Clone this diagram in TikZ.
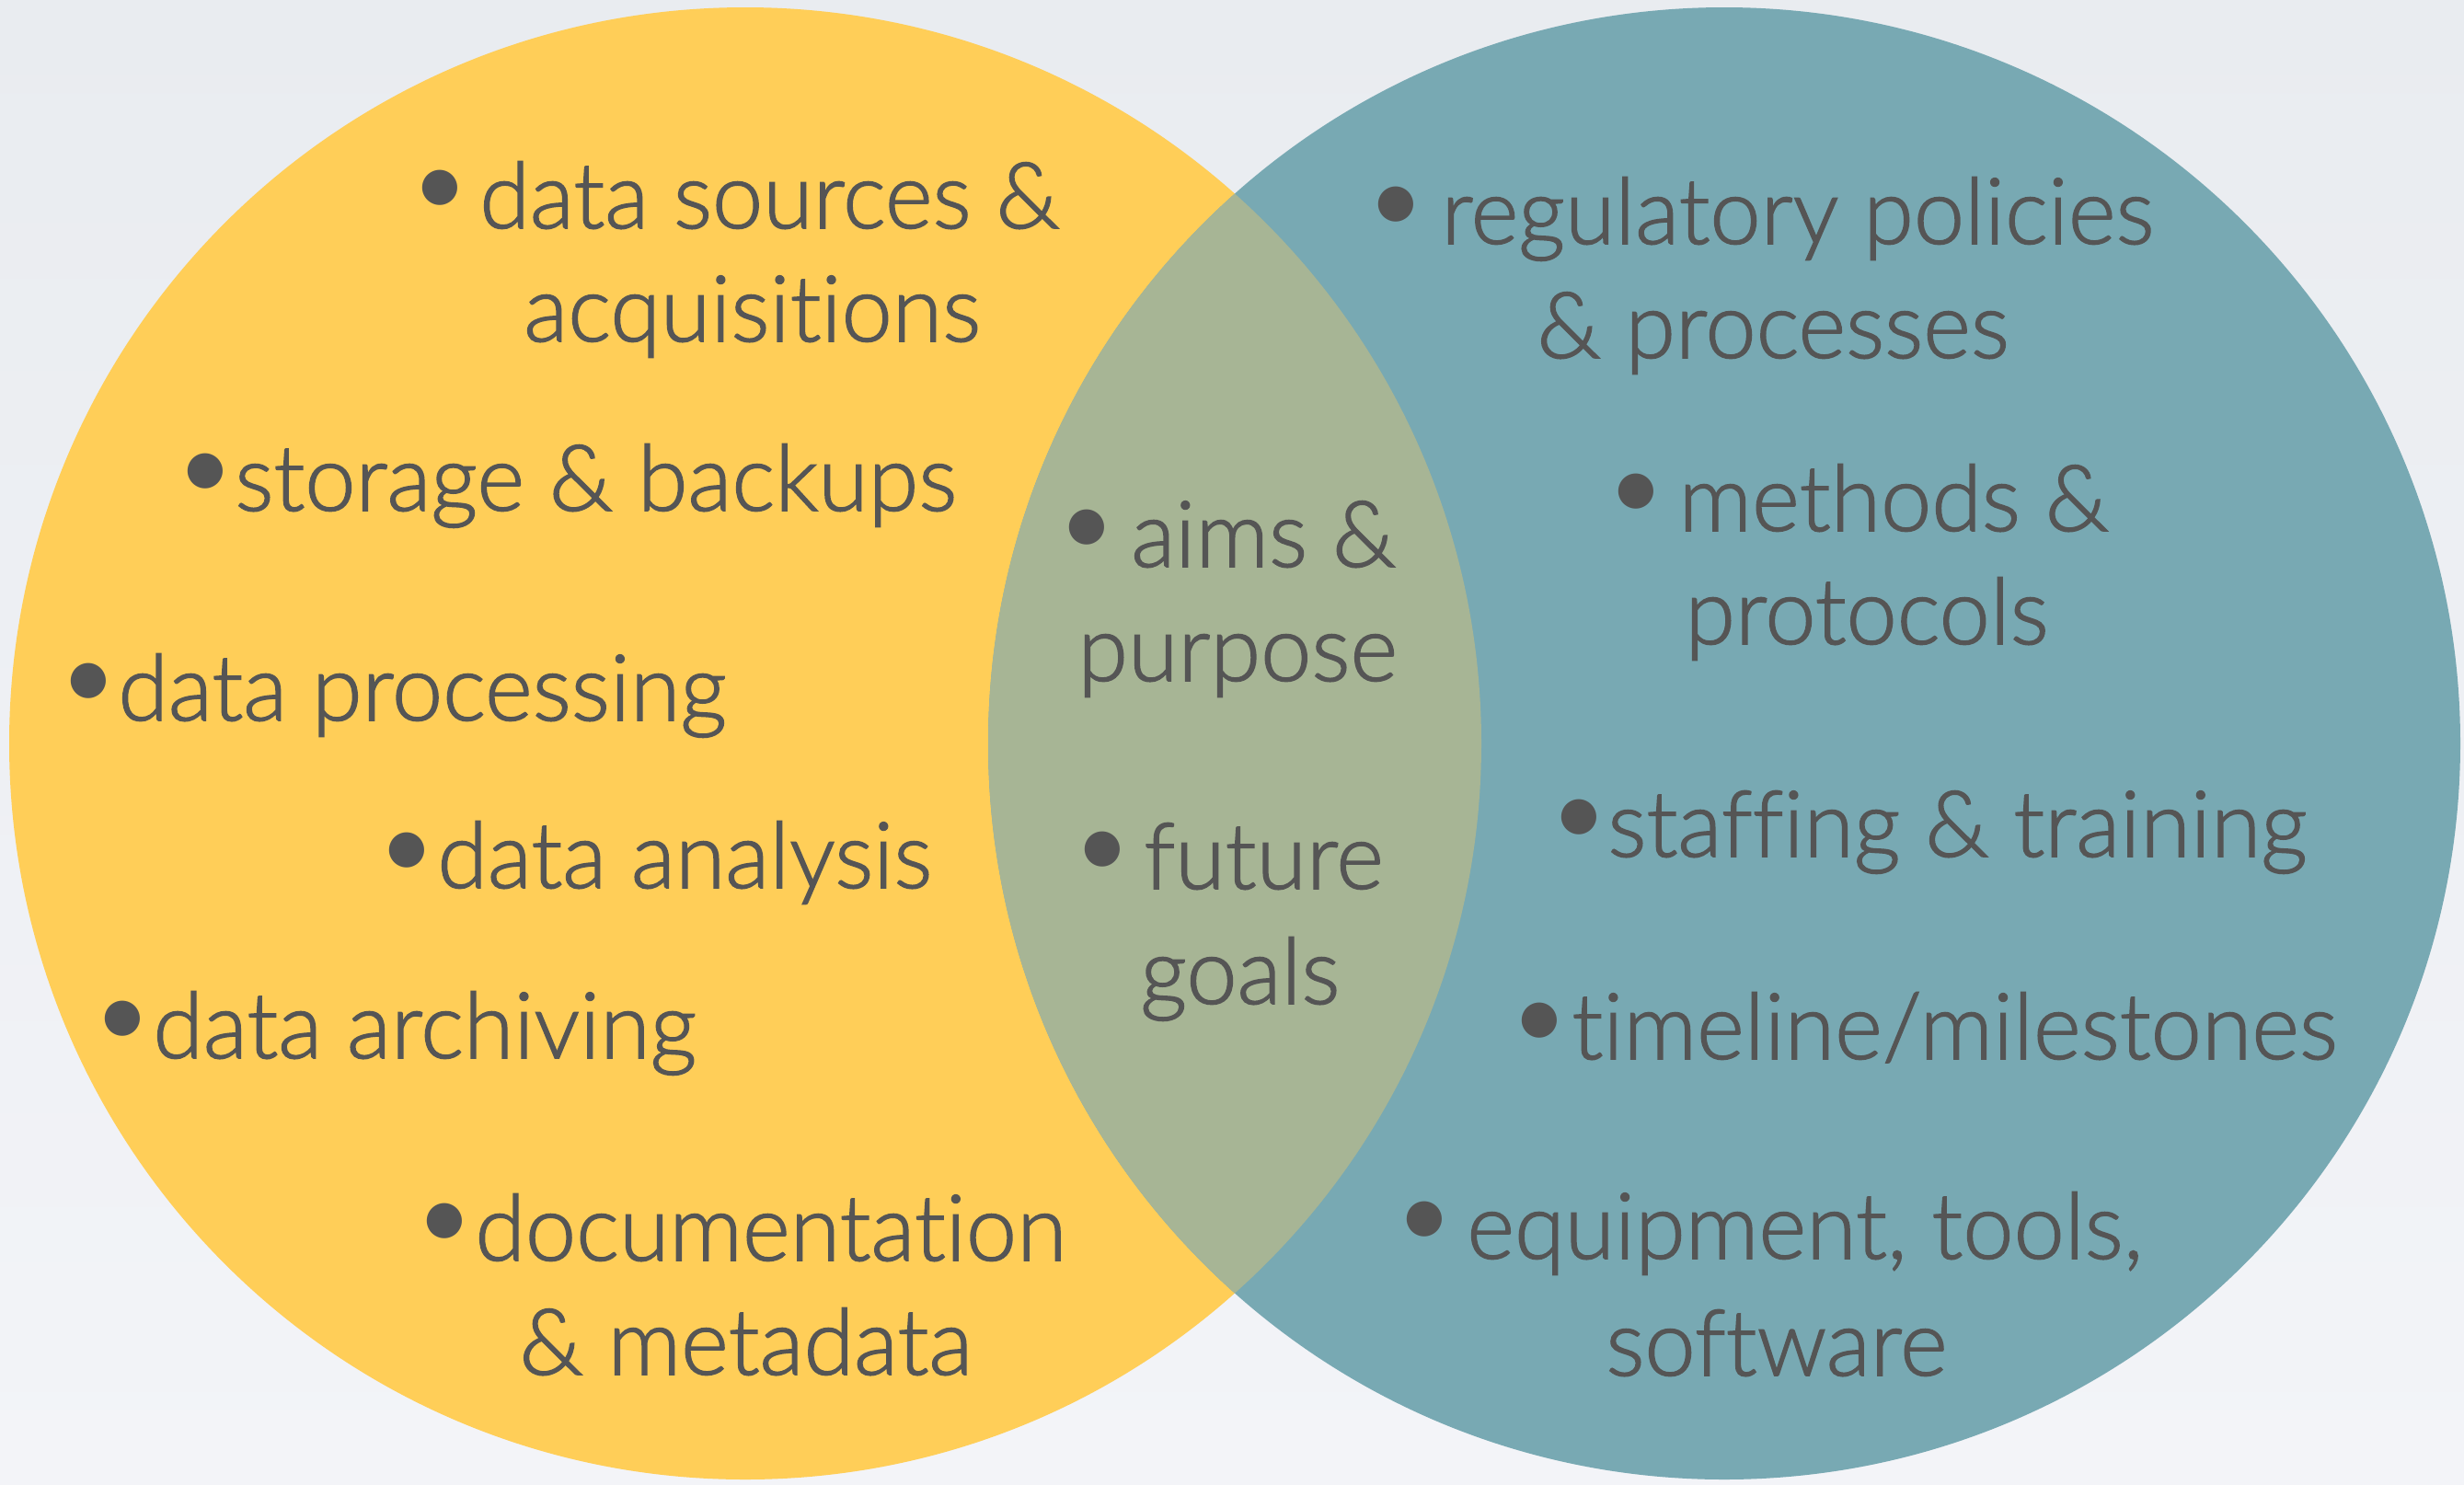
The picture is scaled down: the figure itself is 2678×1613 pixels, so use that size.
\documentclass[tikz,border=0pt]{standalone}
\usepackage{fontspec}
\setmainfont{Lato Light}[FakeStretch=0.99,Ligatures=NoCommon,UprightFeatures={FakeBold=1.5}]
\newfontfamily\bulfont{Carlito}
\definecolor{bgtop}{RGB}{233,236,240}
\definecolor{bgbot}{RGB}{243,244,248}
\definecolor{venyellow}{RGB}{255,206,88}
\definecolor{venteal}{RGB}{120,169,179}
\definecolor{venlens}{RGB}{167,181,149}
\definecolor{txt}{RGB}{85,85,85}
\tikzset{
  itemtext/.style={anchor=base west, inner sep=0pt, text=txt, font=\fontsize{50}{56}\selectfont},
  bul/.style={inner sep=0pt, text=txt, font=\bulfont\fontsize{54}{60}\selectfont}
}
\begin{document}
\begin{tikzpicture}[x=0.5pt,y=-0.5pt]
\useasboundingbox (0,0) rectangle (2678,1613);
\shade[top color=bgtop,bottom color=bgbot] (0,0) rectangle (2678,1613);
\fill[venyellow] (810,808) circle[radius=400pt];
\fill[venteal] (1874,808) circle[radius=400pt];
\begin{scope}
  \clip (810,808) circle[radius=400pt];
  \fill[venlens] (1874,808) circle[radius=400pt];
\end{scope}
% left
\node[bul] (b1) at (478,210) {•};
\node[itemtext] (n1a) at (521,248) {data sources \&};
\node[itemtext] (n1b) at (569,371) {acquisitions};
\node[bul] (b2) at (223,518) {•};
\node[itemtext] (n2) at (255,555) {storage \& backups};
\node[bul] (b3) at (96,746) {•};
\node[itemtext] (n3) at (128,783) {data processing};
\node[bul] (b4) at (442,930) {•};
\node[itemtext] (n4) at (475,965) {data analysis};
\node[bul] (b5) at (133,1113) {•};
\node[itemtext] (n5) at (166,1150) {data archiving};
\node[bul] (b6) at (483,1333) {•};
\node[itemtext] (n6a) at (516,1370) {documentation};
\node[itemtext] (n6b) at (564,1494) {\& metadata};
% middle
\node[bul] (b7) at (1181,579) {•};
\node[itemtext] (n7a) at (1229,616) {aims \&};
\node[itemtext] (n7b) at (1171,740) {purpose};
\node[bul] (b8) at (1198,929) {•};
\node[itemtext] (n8a) at (1243,966) {future};
\node[itemtext] (n8b) at (1239,1091) {goals};
% right
\node[bul] (b9) at (1517,228) {•};
\node[itemtext] (n9a) at (1566,265) {regulatory policies};
\node[itemtext] (n9b) at (1670,389) {\& processes};
\node[bul] (b10) at (1778,540) {•};
\node[itemtext] (n10a) at (1824,577) {methods \&};
\node[itemtext] (n10b) at (1831,700) {protocols};
\node[bul] (b11) at (1716,894) {•};
\node[itemtext] (n11) at (1747,931) {staffing \& training};
\node[bul] (b12) at (1673,1115) {•};
\node[itemtext] (n12) at (1708,1151) {timeline/milestones};
\node[bul] (b13) at (1548,1331) {•};
\node[itemtext] (n13a) at (1594,1368) {equipment, tools,};
\node[itemtext] (n13b) at (1745,1495) {software};
\end{tikzpicture}
\end{document}
